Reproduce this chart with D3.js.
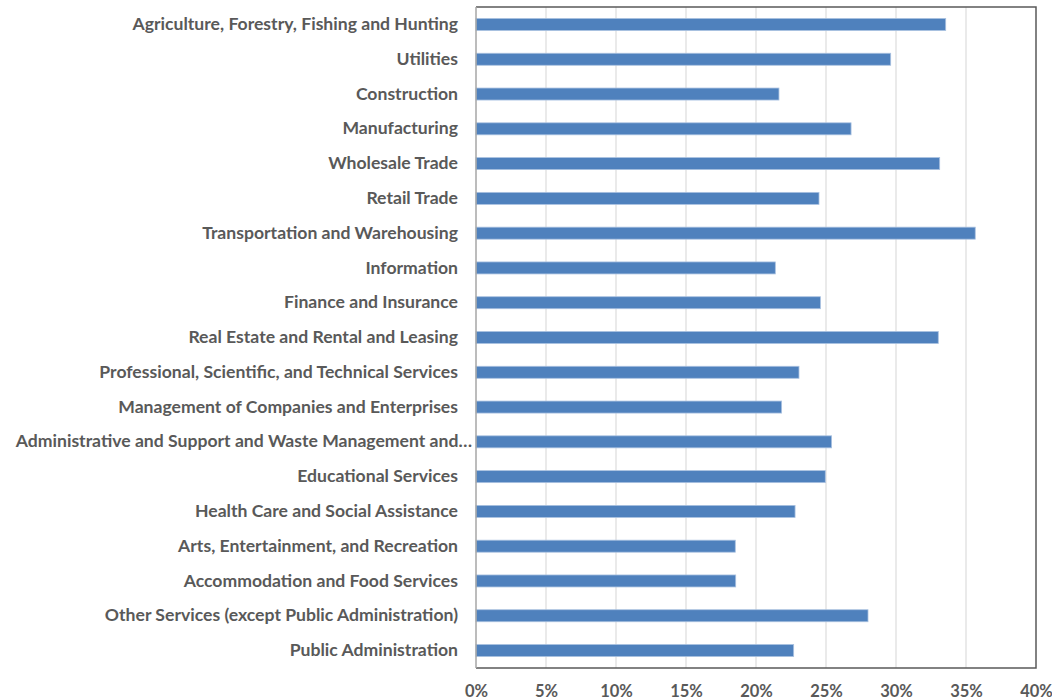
<!DOCTYPE html>
<html>
<head>
<meta charset="utf-8">
<script src="https://cdn.jsdelivr.net/npm/d3@7"></script>
<style>
  body { margin: 0; background: #fff; }
  text { font-family: Lato, "Open Sans", sans-serif; font-weight: bold; fill: #595959; }
</style>
</head>
<body>
<div id="chart"></div>
<script>
// industries, top to bottom
const industries = [
  "Agriculture, Forestry, Fishing and Hunting",
  "Utilities",
  "Construction",
  "Manufacturing",
  "Wholesale Trade",
  "Retail Trade",
  "Transportation and Warehousing",
  "Information",
  "Finance and Insurance",
  "Real Estate and Rental and Leasing",
  "Professional, Scientific, and Technical Services",
  "Management of Companies and Enterprises",
  "Administrative and Support and Waste Management and…",
  "Educational Services",
  "Health Care and Social Assistance",
  "Arts, Entertainment, and Recreation",
  "Accommodation and Food Services",
  "Other Services (except Public Administration)",
  "Public Administration"
];
// share, in percent
const shares = [33.55, 29.62, 21.64, 26.79, 33.12, 24.5, 35.66, 21.38, 24.6, 33.02,
                23.07, 21.83, 25.4, 24.95, 22.79, 18.52, 18.55, 28.0, 22.69];
const ticks = [0, 5, 10, 15, 20, 25, 30, 35, 40];

const W = 1052, H = 700;
const margin = {top: 7, right: 16, bottom: 32, left: 476};
const width = W - margin.left - margin.right,
      height = H - margin.top - margin.bottom;

const svg = d3.select("#chart").append("svg")
    .attr("width", W)
    .attr("height", H);

const g = svg.append("g")
    .attr("transform", "translate(" + margin.left + "," + margin.top + ")");

const x = d3.scaleLinear().domain([0, 40]).range([0, width]);
const y = d3.scaleBand().domain(industries).range([0, height]).paddingInner(0.655).paddingOuter(0.33);

// gridlines
g.selectAll(".grid")
  .data(ticks.slice(1, -1))
  .enter().append("line")
    .attr("class", "grid")
    .attr("x1", d => x(d)).attr("x2", d => x(d))
    .attr("y1", 0).attr("y2", height)
    .style("stroke", "#e3e3e3")
    .style("stroke-width", 1.5);

// bars
const rows = industries.map((name, i) => ({name: name, value: shares[i]}));
g.selectAll(".bar")
  .data(rows)
  .enter().append("rect")
    .attr("class", "bar")
    .attr("x", 0)
    .attr("y", d => y(d.name))
    .attr("width", d => x(d.value))
    .attr("height", y.bandwidth())
    .style("fill", "#4f81bd")
    .style("stroke", "#a9c1e0")
    .style("stroke-width", 0.8);

// frame: top, right, bottom dark; left axis lighter
g.append("path")
  .attr("d", "M0,0H" + width + "V" + height + "H0")
  .style("fill", "none")
  .style("stroke", "#595959")
  .style("stroke-width", 1.5);
g.append("line")
  .attr("x1", 0).attr("x2", 0).attr("y1", 0).attr("y2", height)
  .style("stroke", "#a6a6a6")
  .style("stroke-width", 1.5);

// x axis labels
const xAxis = d3.axisBottom(x).tickValues(ticks).tickFormat(d => d + "%").tickSize(0).tickPadding(17);
const xa = g.append("g").attr("transform", "translate(0," + height + ")").call(xAxis);
xa.select(".domain").remove();
xa.selectAll("text").style("font-size", "16.5px").style("font-family", null);

// category labels
const yAxis = d3.axisLeft(y).tickSize(0).tickPadding(18);
const ya = g.append("g").call(yAxis);
ya.select(".domain").remove();
ya.selectAll("text")
  .style("font-size", "17.6px")
  .style("font-family", null)
  .attr("dx", d => d.endsWith("…") ? 14 : 0);
</script>
</body>
</html>
